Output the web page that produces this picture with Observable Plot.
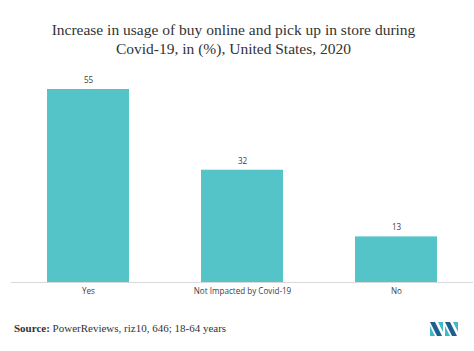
<!DOCTYPE html>
<html>
<head>
<meta charset="utf-8">
<script src="https://cdn.jsdelivr.net/npm/d3@7"></script>
<script src="https://cdn.jsdelivr.net/npm/@observablehq/plot@0.6"></script>
<style>
  html, body { margin: 0; padding: 0; background: #fff; }
  #wrap { position: relative; width: 474px; height: 351px; overflow: hidden; background: #fff; }
  #title { position: absolute; left: 0; top: 20px; width: 467px; text-align: center;
    font-family: "Liberation Serif", "DejaVu Serif", serif; font-size: 15.5px; line-height: 19px; color: #333; }
  #chart { position: absolute; left: 0; top: 60px; }
  #source { position: absolute; left: 14px; top: 322px; font-family: "Liberation Serif", serif; font-size: 11px; color: #333; }
  #logo { position: absolute; left: 430px; top: 322px; }
</style>
</head>
<body>
<div id="wrap">
  <div id="title">Increase in usage of buy online and pick up in store during<br>Covid-19, in (%), United States, 2020</div>
  <div id="chart"></div>
  <div id="source"><b>Source:</b> PowerReviews, riz10, 646; 18-64 years</div>
  <svg id="logo" width="28" height="15" viewBox="0 0 28 15">
    <polygon points="0,0 5,0 12,14 7,14" fill="#1f5f8f"/>
    <polygon points="0,4 5,14 0,14" fill="#3fb9c9"/>
    <polygon points="8,0 13,0 13,10" fill="#3fb9c9"/>
    <polygon points="15,0 20,0 27,14 22,14" fill="#1f5f8f"/>
    <polygon points="15,4 20,14 15,14" fill="#3fb9c9"/>
    <polygon points="23,0 28,0 28,10" fill="#3fb9c9"/>
  </svg>
</div>
<script>
const categories = ["Yes", "Not Impacted by Covid-19", "No"];
const values = [55, 32, 13];

const data = categories.map((c, i) => ({category: c, value: values[i]}));

const chart = Plot.plot({
  width: 474,
  height: 245,
  marginTop: 29,
  marginBottom: 23,
  marginLeft: 11,
  marginRight: 1,
  style: {fontFamily: "'Open Sans', 'Liberation Sans', sans-serif", fontSize: "8.1px", color: "#404040", background: "transparent"},
  x: {domain: categories, paddingInner: 0.47, paddingOuter: 0.235, label: null, tickSize: 0, tickPadding: 6},
  y: {domain: [0, 55], axis: null},
  marks: [
    Plot.barY(data, {x: "category", y: "value", fill: "#55c4c9"}),
    Plot.ruleY([0], {stroke: "#d9d9d9", strokeWidth: 1}),
    Plot.text(data, {x: "category", y: "value", text: d => String(d.value), dy: -9, fill: "#404040", fontSize: 8.1})
  ]
});
document.getElementById("chart").appendChild(chart);
</script>
</body>
</html>
